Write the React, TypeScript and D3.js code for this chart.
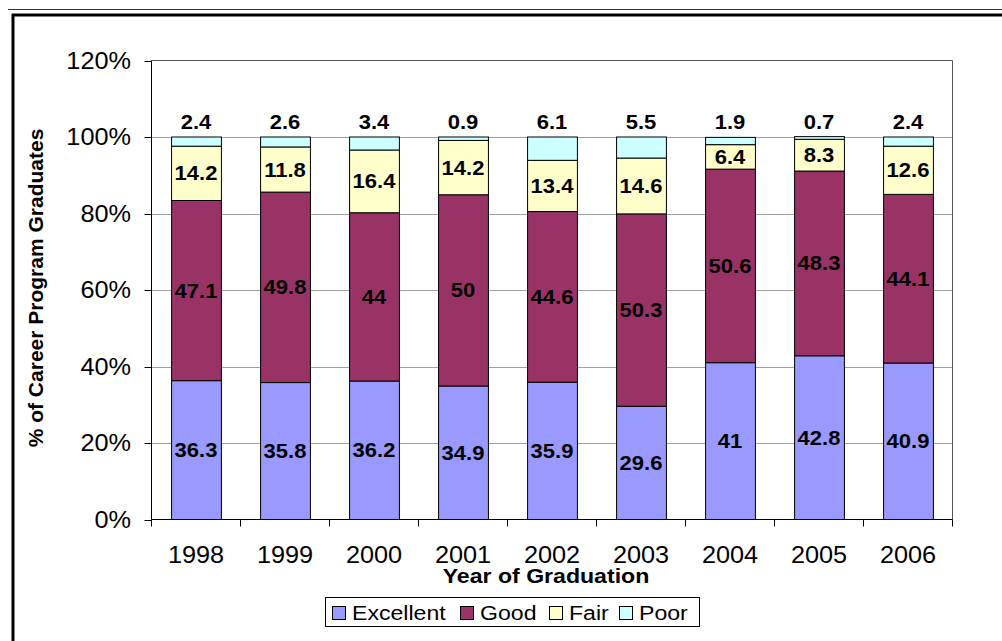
import React from "react";
import * as d3 from "d3";

const years = ["1998", "1999", "2000", "2001", "2002", "2003", "2004", "2005", "2006"];
const excellent = [36.3, 35.8, 36.2, 34.9, 35.9, 29.6, 41, 42.8, 40.9];
const good = [47.1, 49.8, 44, 50, 44.6, 50.3, 50.6, 48.3, 44.1];
const fair = [14.2, 11.8, 16.4, 14.2, 13.4, 14.6, 6.4, 8.3, 12.6];
const poor = [2.4, 2.6, 3.4, 0.9, 6.1, 5.5, 1.9, 0.7, 2.4];
const seriesNames = ["Excellent", "Good", "Fair", "Poor"];
const seriesColors = ["#9999FF", "#993366", "#FFFFCC", "#CCFFFF"];
const yTicks = [0, 20, 40, 60, 80, 100, 120];

const W = 1002;
const H = 641;
const plot = { left: 151.5, right: 952.5, top: 60.5, bottom: 519.5 };
const FONT = "'Liberation Sans', Arial, sans-serif";
const SX = 1.1;

function T({ x, y, children, size, bold, anchor = "middle" }: any) {
  return (
    <text
      transform={`translate(${x},${y}) scale(${SX},1)`}
      fontFamily={FONT}
      fontSize={size}
      fontWeight={bold ? "bold" : "normal"}
      textAnchor={anchor}
      fill="#000"
    >
      {children}
    </text>
  );
}

export default function App() {
  const rows = years.map((yr, i) => ({
    year: yr,
    Excellent: excellent[i],
    Good: good[i],
    Fair: fair[i],
    Poor: poor[i],
  }));
  const stack = d3.stack<any>().keys(seriesNames)(rows);

  const x = d3
    .scaleBand<string>()
    .domain(years)
    .range([plot.left, plot.right])
    .paddingInner(0.44)
    .paddingOuter(0.22);
  const y = d3.scaleLinear().domain([0, 120]).range([plot.bottom, plot.top]);
  const step = x.step();

  const legendItems = [
    { name: "Excellent", sx: 332, tx: 352 },
    { name: "Good", sx: 460, tx: 480 },
    { name: "Fair", sx: 549, tx: 569 },
    { name: "Poor", sx: 619, tx: 639 },
  ];

  return (
    <svg
      width={W}
      height={H}
      style={{ position: "absolute", left: 0, top: 0, background: "#fff" }}
    >
      {/* frame */}
      <line x1={8} x2={W} y1={9.5} y2={9.5} stroke="#333" strokeWidth={1} />
      <line x1={12} x2={W} y1={15} y2={15} stroke="#000" strokeWidth={3} />
      <line x1={13} x2={13} y1={14} y2={H} stroke="#000" strokeWidth={3} />

      {/* gridlines */}
      {yTicks
        .filter((t) => t > 0 && t < 120)
        .map((t) => (
          <line
            key={"g" + t}
            x1={plot.left}
            x2={plot.right}
            y1={Math.round(y(t)) + 0.5}
            y2={Math.round(y(t)) + 0.5}
            stroke="#A0A0A0"
            strokeWidth={1}
          />
        ))}
      {/* plot border top/right */}
      <line x1={plot.left} x2={plot.right} y1={plot.top} y2={plot.top} stroke="#555" strokeWidth={1} />
      <line x1={plot.right} x2={plot.right} y1={plot.top} y2={plot.bottom} stroke="#555" strokeWidth={1} />

      {/* bars */}
      {stack.map((s, si) =>
        s.map((d: any, i: number) => (
          <rect
            key={si + "-" + i}
            x={(x(years[i]) as number) + 0.5}
            y={y(d[1])}
            width={x.bandwidth()}
            height={y(d[0]) - y(d[1])}
            fill={seriesColors[si]}
            stroke="#000"
            strokeWidth={1}
          />
        ))
      )}

      {/* axes */}
      <line x1={plot.left} x2={plot.left} y1={plot.top} y2={plot.bottom} stroke="#000" strokeWidth={1} />
      <line x1={plot.left} x2={plot.right} y1={plot.bottom} y2={plot.bottom} stroke="#000" strokeWidth={1} />
      {yTicks.map((t) => (
        <g key={"yt" + t}>
          <line
            x1={plot.left - 7}
            x2={plot.left}
            y1={Math.round(y(t)) + 0.5}
            y2={Math.round(y(t)) + 0.5}
            stroke="#000"
          />
          <T x={131} y={y(t) + 8} size={23} anchor="end">
            {t + "%"}
          </T>
        </g>
      ))}
      {d3.range(years.length + 1).map((i) => (
        <line
          key={"xt" + i}
          x1={plot.left + i * step}
          x2={plot.left + i * step}
          y1={plot.bottom}
          y2={plot.bottom + 7}
          stroke="#000"
        />
      ))}
      {years.map((yr) => (
        <T key={"xl" + yr} x={(x(yr) as number) + x.bandwidth() / 2} y={563} size={23}>
          {yr}
        </T>
      ))}

      {/* data labels */}
      {stack.map((s, si) =>
        s.map((d: any, i: number) => {
          const cx = (x(years[i]) as number) + x.bandwidth() / 2;
          const v = d[1] - d[0];
          const isPoor = si === 3;
          const cy = isPoor ? y(d[1] > 100 ? 100 : d[1]) - 8 : (y(d[0]) + y(d[1])) / 2 + 7;
          const vals = [excellent, good, fair, poor][si];
          return (
            <T key={"dl" + si + i} x={cx} y={cy} size={20} bold>
              {String(vals[i])}
            </T>
          );
        })
      )}

      {/* axis titles */}
      <T x={546} y={583} size={21} bold>
        Year of Graduation
      </T>
      <text
        transform="translate(43,288) rotate(-90)"
        fontFamily={FONT}
        fontSize={21}
        fontWeight="bold"
        textAnchor="middle"
      >
        % of Career Program Graduates
      </text>

      {/* legend */}
      <rect x={325.5} y={597.5} width={374} height={29} fill="#fff" stroke="#000" strokeWidth={1} />
      {legendItems.map((it, i) => (
        <g key={"lg" + it.name}>
          <rect x={it.sx + 0.5} y={606.5} width={13} height={13} fill={seriesColors[i]} stroke="#000" strokeWidth={1} />
          <T x={it.tx} y={620} size={21} anchor="start">
            {it.name}
          </T>
        </g>
      ))}
    </svg>
  );
}
